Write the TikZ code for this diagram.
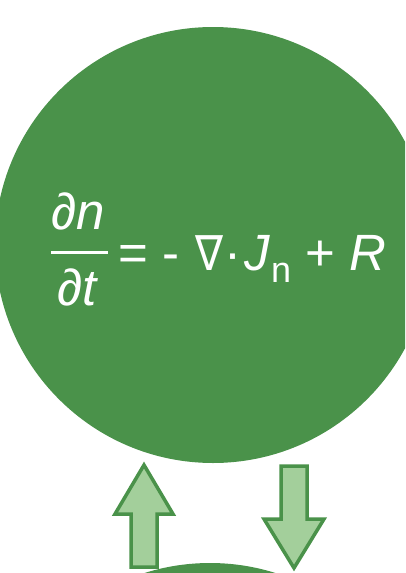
\documentclass[tikz,border=0pt]{standalone}
\usepackage{fontspec}
\setmainfont{Liberation Sans}
\newfontfamily\symfont{DejaVu Sans}
\definecolor{CellGreen}{RGB}{74, 146, 74}
\definecolor{FluxGreen}{RGB}{163, 207, 155}
\usetikzlibrary{positioning}
\newcommand{\nablasym}{\scalebox{0.82}[0.95]{\symfont ∇}}

\begin{document}
\begin{tikzpicture}[x=1pt, y=-1pt,
    cell/.style={circle, fill=CellGreen, minimum size=436pt, inner sep=0pt},
    eqtext/.style={text=white, inner sep=0pt, font=\fontsize{51}{62}\selectfont},
    flux/.style={fill=FluxGreen, draw=CellGreen, line width=3.5pt, line join=miter}
  ]
  \useasboundingbox (0,0) rectangle (405,573);
  \clip (0,0) rectangle (405,573);
  % the two cells
  \node[cell] (upper) at (213,245) {};
  \node[cell] (lower) at (210,781) {};
  % continuity equation
  \node[eqtext, anchor=base west] (num) at (51,229) {∂\textit{n}};
  \node[eqtext, anchor=base west] (den) at (57,305) {∂\textit{t}};
  \draw[white, line width=3pt] (51,252) coordinate (barL) -- (108,252) coordinate (barR);
  \node[eqtext, anchor=base west] (rhs) at (118,270)
       {= - \kern2pt\nablasym\kern1pt·\kern3pt\textit{J}\kern1pt\raisebox{-12pt}{\fontsize{36}{40}\selectfont n} + \textit{R}};
  % fluxes between the cells
  \draw[flux] (131,567) -- (131,514) -- (115,514) -- (144,465)
              -- (173,514) -- (157,514) -- (157,567) -- cycle;
  \draw[flux] (281,466) -- (307,466) -- (307,519) -- (324,519)
              -- (294,568) -- (264,519) -- (281,519) -- cycle;
\end{tikzpicture}
\end{document}
